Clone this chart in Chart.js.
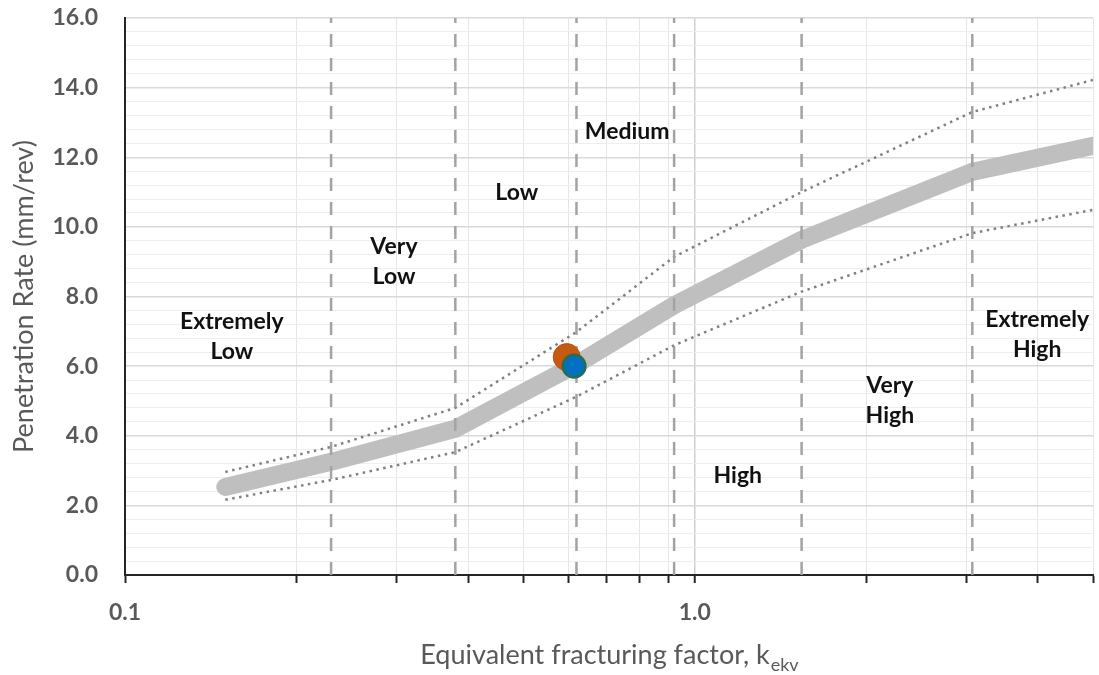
<!DOCTYPE html>
<html>
<head>
<meta charset="utf-8">
<script src="https://cdn.jsdelivr.net/npm/chart.js@4/dist/chart.umd.min.js"></script>
<style>
  html, body { margin: 0; padding: 0; background: #ffffff; }
  canvas { display: block; }
</style>
</head>
<body>
<canvas id="chart" width="1099" height="675"></canvas>
<script>
// Equivalent fracturing factor values where the curves are defined
const curveK = [0.15, 0.23, 0.38, 0.62, 0.92, 1.54, 3.07, 5.0];
// Mean penetration rate and its upper / lower band (mm/rev)
const rateMean  = [2.53, 3.25, 4.20, 6.05, 7.75, 9.63, 11.58, 12.33];
const rateUpper = [2.96, 3.68, 4.80, 6.98, 9.14, 11.00, 13.30, 14.22];
const rateLower = [2.16, 2.73, 3.53, 5.12, 6.60, 8.14, 9.82, 10.49];

// Class limits of k_ekv (vertical dashed lines)
const classLimits = [0.23, 0.38, 0.62, 0.92, 1.54, 3.07];

// Measured samples
const sampleOrangeK = [0.596];
const sampleOrangeRate = [6.26];
const sampleBlueK = [0.614];
const sampleBlueRate = [6.00];

// Fracturing class names and where they are written (k_ekv, rate)
const classNames = [['Extremely', 'Low'], ['Very', 'Low'], ['Low'], ['Medium'], ['High'], ['Very', 'High'], ['Extremely', 'High']];
const classLabelK    = [0.154, 0.2965, 0.487, 0.761, 1.19, 2.2, 3.99];
const classLabelRate = [6.84, 9.0, 10.98, 12.73, 2.87, 5.0, 6.9];

// Axis ticks
const xTickValues = [0.1, 0.2, 0.3, 0.4, 0.5, 0.6, 0.7, 0.8, 0.9, 1, 2, 3, 4, 5];
const xTickText = { '0.1': '0.1', '1': '1.0' };
const yMin = 0, yMax = 16, yStep = 0.4, yLabelEvery = 2;

const toPoints = (xs, ys) => xs.map((x, i) => ({ x: x, y: ys[i] }));

const labelFont = 'bold 23px Lato';
const grey = '#595959';

const classLabelsPlugin = {
  id: 'classLabels',
  afterDatasetsDraw(chart) {
    const { ctx, scales: { x, y } } = chart;
    ctx.save();
    ctx.font = labelFont;
    ctx.fillStyle = '#111111';
    ctx.textAlign = 'center';
    ctx.textBaseline = 'middle';
    const lineGap = 30;
    classNames.forEach((lines, i) => {
      const px = x.getPixelForValue(classLabelK[i]);
      const py = y.getPixelForValue(classLabelRate[i]);
      const start = py - (lines.length - 1) * lineGap / 2;
      lines.forEach((t, j) => ctx.fillText(t, px, start + j * lineGap));
    });
    ctx.restore();
  }
};

const xTitlePlugin = {
  id: 'xTitle',
  afterDraw(chart) {
    const { ctx, chartArea } = chart;
    const main = 'Equivalent fracturing factor, k';
    const sub = 'ekv';
    ctx.save();
    ctx.fillStyle = grey;
    ctx.textBaseline = 'alphabetic';
    ctx.textAlign = 'left';
    ctx.font = '27px Lato';
    const w1 = ctx.measureText(main).width;
    ctx.font = '18px Lato';
    const w2 = ctx.measureText(sub).width;
    const cx = (chartArea.left + chartArea.right) / 2;
    const x0 = cx - (w1 + w2) / 2;
    const base = chartArea.bottom + 89;
    ctx.font = '27px Lato';
    ctx.fillText(main, x0, base);
    ctx.font = '18px Lato';
    ctx.fillText(sub, x0 + w1 + 1, base + 7);
    ctx.restore();
  }
};

const isMajorY = v => Math.round(v * 10) % Math.round(yLabelEvery * 10) === 0;

const limitSets = classLimits.map(k => ({
  data: [{ x: k, y: yMin }, { x: k, y: yMax }],
  showLine: true,
  borderColor: '#a3a3a3',
  borderWidth: 2.5,
  borderDash: [13, 11],
  pointRadius: 0,
  order: 2
}));

new Chart(document.getElementById('chart'), {
  type: 'scatter',
  data: {
    datasets: [
      {
        data: toPoints(sampleBlueK, sampleBlueRate),
        backgroundColor: '#0070c0',
        borderColor: '#2b6b50',
        borderWidth: 2.5,
        pointRadius: 11.3,
        order: 0
      },
      {
        data: toPoints(sampleOrangeK, sampleOrangeRate),
        backgroundColor: '#c55a11',
        borderColor: '#b8520f',
        borderWidth: 1,
        pointRadius: 13.5,
        order: 1
      },
      ...limitSets,
      {
        data: toPoints(curveK, rateUpper),
        showLine: true,
        borderColor: '#808080',
        borderWidth: 2.5,
        borderDash: [2.5, 4.5],
        pointRadius: 0,
        order: 3
      },
      {
        data: toPoints(curveK, rateLower),
        showLine: true,
        borderColor: '#808080',
        borderWidth: 2.5,
        borderDash: [2.5, 4.5],
        pointRadius: 0,
        order: 3
      },
      {
        data: toPoints(curveK, rateMean),
        showLine: true,
        borderColor: '#bfbfbf',
        borderWidth: 18,
        borderCapStyle: 'round',
        borderJoinStyle: 'round',
        pointRadius: 0,
        order: 4
      }
    ]
  },
  options: {
    responsive: false,
    animation: false,
    devicePixelRatio: 1,
    layout: { autoPadding: false, padding: { top: 18, right: 6, bottom: 0, left: 0 } },
    plugins: {
      legend: { display: false },
      tooltip: { enabled: false }
    },
    scales: {
      x: {
        type: 'logarithmic',
        min: 0.1,
        max: 5,
        afterBuildTicks: scale => { scale.ticks = xTickValues.map(v => ({ value: v })); },
        afterFit: scale => {
          scale.height = 100;
          scale.paddingLeft = 0; scale.paddingRight = 0;
          scale.paddingTop = 0; scale.paddingBottom = 0;
        },
        ticks: {
          autoSkip: false,
          maxRotation: 0,
          padding: 16,
          color: grey,
          font: { family: 'Lato', size: 23, weight: 'bold' },
          callback: v => xTickText[String(v)] || ''
        },
        grid: {
          color: ctx => (ctx.tick && ctx.tick.value === 1) ? '#cfcfcf' : '#e6e6e6',
          lineWidth: ctx => (ctx.tick && ctx.tick.value === 1) ? 1.5 : 1,
          drawTicks: true,
          tickLength: 8,
          tickColor: '#262626',
          tickWidth: 2
        },
        border: { display: true, color: '#262626', width: 2 }
      },
      y: {
        type: 'linear',
        min: yMin,
        max: yMax,
        afterFit: scale => {
          scale.width = 125;
          scale.paddingLeft = 0; scale.paddingRight = 0;
          scale.paddingTop = 0; scale.paddingBottom = 0;
        },
        ticks: {
          stepSize: yStep,
          autoSkip: false,
          padding: 27,
          color: grey,
          font: { family: 'Lato', size: 23, weight: 'bold' },
          callback: v => isMajorY(v) ? v.toFixed(1) : ''
        },
        grid: {
          color: ctx => (ctx.tick && isMajorY(ctx.tick.value)) ? '#d9d9d9' : '#eeeeee',
          lineWidth: ctx => (ctx.tick && isMajorY(ctx.tick.value)) ? 1.5 : 1,
          drawTicks: false
        },
        border: { display: true, color: '#262626', width: 2 },
        title: {
          display: true,
          text: 'Penetration Rate (mm/rev)',
          color: grey,
          font: { family: 'Lato', size: 27 },
          padding: { top: 8, bottom: 0 }
        }
      }
    }
  },
  plugins: [classLabelsPlugin, xTitlePlugin]
});
</script>
</body>
</html>
